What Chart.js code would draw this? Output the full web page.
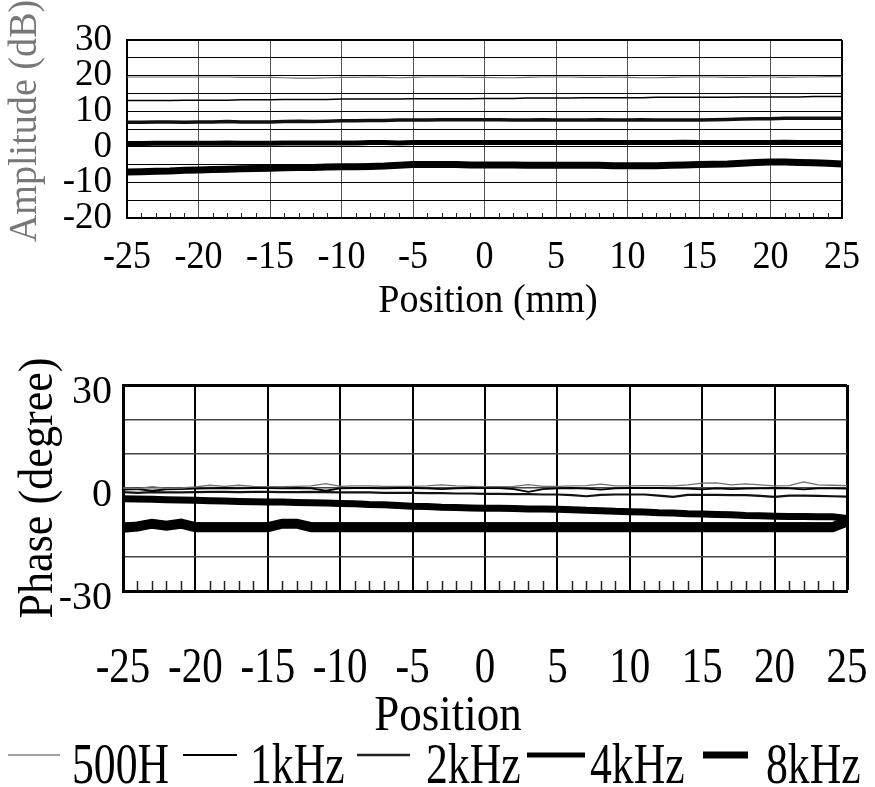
<!DOCTYPE html>
<html><head><meta charset="utf-8">
<script src="https://cdn.jsdelivr.net/npm/chart.js@4/dist/chart.umd.min.js"></script>
<style>
html,body{margin:0;padding:0;background:#fff;width:875px;height:787px;overflow:hidden;}
#top{position:absolute;left:0;top:0;width:875px;height:330px;}
#bot{position:absolute;left:0;top:330px;width:875px;height:457px;}
canvas{display:block;}
</style></head><body>
<div id="top"><canvas id="c1" width="875" height="330"></canvas></div>
<div id="bot"><canvas id="c2" width="875" height="457"></canvas></div>
<script>
// ---------- DATA ----------
const positions = [-25,-24,-23,-22,-21,-20,-19,-18,-17,-16,-15,-14,-13,-12,-11,-10,-9,-8,-7,-6,-5,-4,-3,-2,-1,0,1,2,3,4,5,6,7,8,9,10,11,12,13,14,15,16,17,18,19,20,21,22,23,24,25];
const seriesLabels = ['500H','1kHz','2kHz','4kHz','8kHz'];
const xTickLabels = ['-25','-20','-15','-10','-5','0','5','10','15','20','25'];
const ampTickLabels = ['30','20','10','0','-10','-20'];
const phaseTickLabels = ['30','0','-30'];

// Amplitude (dB)
const amp500 = [19.6,19.6,19.6,19.6,19.6,19.6,19.6,19.6,19.5,19.5, 19.5,19.4,19.3,19.3,19.4,19.5,19.5,19.6,19.5,19.4, 19.5,19.6,19.6,19.6,19.5,19.5,19.4,19.4,19.5,19.6, 19.6,19.6,19.5,19.5,19.6,19.5,19.4,19.4,19.5,19.6, 19.6,19.6,19.5,19.5,19.6,19.6,19.5,19.6,19.6,19.7, 19.7];
const amp1k  = [13.0,13.0,13.0,13.0,13.1,13.1,13.1,13.1,13.2,13.2, 13.2,13.3,13.3,13.3,13.3,13.4,13.4,13.4,13.4,13.4, 13.5,13.5,13.5,13.5,13.5,13.6,13.6,13.6,13.7,13.7, 13.7,13.7,13.8,13.8,13.8,13.8,13.8,13.9,13.9,13.9, 13.9,13.9,13.9,14.0,14.0,14.0,14.0,14.0,14.1,14.1, 14.1];
const amp2k  = [6.9,6.9,7.0,7.0,6.9,7.0,7.0,7.1,7.0,7.0, 7.0,7.1,7.2,7.1,7.2,7.3,7.3,7.4,7.4,7.5, 7.5,7.5,7.6,7.6,7.6,7.6,7.6,7.5,7.5,7.6, 7.5,7.5,7.5,7.6,7.5,7.5,7.6,7.5,7.5,7.5, 7.5,7.6,7.7,7.8,7.9,7.9,8.0,8.0,8.0,8.0, 8.0];
const amp4k  = [0.9,0.9,1.0,1.0,1.0,1.0,1.0,1.1,1.0,1.0, 1.0,1.1,1.1,1.1,1.1,1.1,1.1,1.2,1.2,1.1, 1.2,1.2,1.2,1.2,1.2,1.2,1.2,1.2,1.2,1.2, 1.2,1.2,1.2,1.2,1.2,1.2,1.2,1.2,1.2,1.3, 1.2,1.2,1.2,1.2,1.2,1.2,1.3,1.2,1.2,1.2, 1.2];
const amp8k  = [-7.1,-7.0,-6.9,-6.8,-6.6,-6.5,-6.4,-6.3,-6.2,-6.1, -6.0,-5.9,-5.8,-5.8,-5.7,-5.6,-5.6,-5.5,-5.4,-5.2, -5.0,-5.0,-5.0,-5.0,-5.1,-5.1,-5.1,-5.1,-5.2,-5.2, -5.2,-5.2,-5.2,-5.2,-5.3,-5.3,-5.3,-5.3,-5.2,-5.1, -5.0,-4.9,-4.8,-4.6,-4.4,-4.3,-4.3,-4.4,-4.5,-4.6, -4.8];

// Phase (degree)
const ph500 = [0.0,-0.2,0.4,-0.1,0.0,0.3,0.8,0.5,0.8,0.5, 0.4,0.4,0.5,0.6,1.3,0.5,0.6,0.6,0.5,0.5, 0.5,0.6,0.9,0.6,0.5,0.4,0.4,0.5,1.0,0.5, 0.5,0.6,0.7,1.1,0.6,0.6,0.7,0.7,0.6,0.9, 1.4,1.5,0.9,1.2,0.9,0.6,0.7,1.8,0.9,0.8, 0.7];
const ph1k  = [-0.5,-0.3,-0.8,-0.4,-0.3,-0.2,-0.1,0.0,-0.1,0.0, 0.0,-0.1,0.0,-0.1,-0.8,-0.1,0.0,0.0,-0.1,0.0, 0.0,-0.1,-0.3,-0.1,0.0,0.0,0.0,-0.3,-1.1,-0.3, -0.1,0.0,-0.2,-0.5,-0.1,0.0,0.0,0.0,-0.1,-0.2, -0.4,-0.1,-0.3,-0.2,-0.1,0.0,-0.1,-0.4,-0.1,-0.1, -0.2];
const ph2k  = [-1.2,-1.4,-1.2,-1.3,-1.3,-1.2,-1.1,-1.1,-1.2,-1.1, -1.1,-1.2,-1.2,-1.1,-1.2,-1.3,-1.3,-1.3,-1.4,-1.4, -1.4,-1.5,-1.5,-1.6,-1.6,-1.7,-1.7,-1.8,-1.8,-1.9, -1.9,-2.1,-2.4,-2.0,-1.9,-1.9,-1.9,-2.2,-2.6,-2.0, -2.0,-2.0,-2.1,-2.1,-2.3,-2.6,-2.2,-2.2,-2.3,-2.4, -2.5];
const ph4k  = [-3.1,-3.2,-3.3,-3.4,-3.5,-3.6,-3.7,-3.8,-3.9,-4.0, -4.1,-4.1,-4.2,-4.3,-4.4,-4.5,-4.6,-4.8,-4.9,-5.1, -5.3,-5.4,-5.6,-5.7,-5.8,-5.9,-5.9,-6.0,-6.1,-6.1, -6.2,-6.3,-6.5,-6.6,-6.8,-6.9,-7.0,-7.2,-7.3,-7.5, -7.6,-7.7,-7.8,-8.0,-8.1,-8.2,-8.3,-8.3,-8.4,-8.4, -8.9];
const ph8k  = [-11.6,-11.2,-10.4,-11.0,-10.4,-11.4,-11.4,-11.4,-11.4,-11.4, -11.4,-10.4,-10.4,-11.4,-11.4,-11.4,-11.4,-11.4,-11.4,-11.4, -11.4,-11.4,-11.4,-11.4,-11.4,-11.4,-11.4,-11.4,-11.4,-11.4, -11.4,-11.4,-11.4,-11.4,-11.4,-11.4,-11.4,-11.4,-11.4,-11.4, -11.4,-11.4,-11.4,-11.4,-11.4,-11.4,-11.4,-11.4,-11.4,-11.4, -9.8];

// ---------- STYLE ----------
const FONT = '"Liberation Serif", "Times New Roman", serif';
const seriesColors = ['#707070','#000000','#111111','#000000','#000000'];
const legendColors = ['#808080','#000000','#222222','#000000','#000000'];
const ampWidths = [1.2, 1.5, 3.5, 5, 7];
const phWidths = [1.3, 1.8, 2.2, 7, 10];
const legendWidths = [1.5, 2, 2.5, 5, 7];

function makeDatasets(arrays, widths) {
  return seriesLabels.map((lab, i) => ({
    label: lab,
    data: positions.map((p, j) => ({x: p, y: arrays[i][j]})),
    borderColor: seriesColors[i],
    backgroundColor: seriesColors[i],
    borderWidth: widths[i],
    pointRadius: 0,
    tension: 0,
    fill: false,
    clip: false,
    borderCapStyle: 'butt',
    borderJoinStyle: 'miter'
  }));
}

function condText(ctx, txt, x, y, size, sx, opt) {
  opt = opt || {};
  ctx.save();
  ctx.translate(x, y);
  if (opt.rot) ctx.rotate(-Math.PI / 2);
  ctx.scale(sx, 1);
  ctx.font = size + 'px ' + FONT;
  ctx.fillStyle = opt.color || '#000';
  ctx.textAlign = opt.align || 'center';
  ctx.textBaseline = opt.baseline || 'alphabetic';
  if (opt.filter) ctx.filter = opt.filter;
  ctx.fillText(txt, 0, 0);
  ctx.restore();
}

function minorTicks(chart, len, lw) {
  const ctx = chart.ctx, xs = chart.scales.x, ca = chart.chartArea;
  ctx.save();
  ctx.strokeStyle = '#222';
  ctx.lineWidth = lw;
  positions.forEach(p => {
    if (p % 5 !== 0) {
      const px = Math.round(xs.getPixelForValue(p)) + 0.5;
      ctx.beginPath();
      ctx.moveTo(px, ca.bottom);
      ctx.lineTo(px, ca.bottom - len);
      ctx.stroke();
    }
  });
  ctx.restore();
}

// ---------- TOP: AMPLITUDE ----------
const topDeco = {
  id: 'topDeco',
  afterDraw(chart) {
    const ctx = chart.ctx, xs = chart.scales.x;
    minorTicks(chart, 5, 1);
    xTickLabels.forEach(t => condText(ctx, t, xs.getPixelForValue(+t), 268, 41, 0.88));
    condText(ctx, 'Position (mm)', 488, 312, 41, 0.93);
    condText(ctx, 'Amplitude (dB)', 36, 121, 41, 0.93, {rot: true, color: '#777777', filter: 'blur(0.7px)'});
  }
};

new Chart(document.getElementById('c1'), {
  type: 'line',
  data: {datasets: makeDatasets([amp500, amp1k, amp2k, amp4k, amp8k], ampWidths)},
  options: {
    responsive: false, animation: false, devicePixelRatio: 1,
    layout: {padding: {left: 0, top: 40, right: 33, bottom: 0}},
    plugins: {legend: {display: false}, tooltip: {enabled: false}},
    scales: {
      x: {
        type: 'linear', min: -25, max: 25,
        ticks: {stepSize: 5, display: false},
        grid: {
          drawTicks: false,
          color: c => (c.tick && c.tick.value === 25) ? '#000' : '#555',
          lineWidth: c => (c.tick && c.tick.value === 25) ? 2 : 1
        },
        border: {display: true, color: '#000', width: 2},
        afterFit: s => { s.height = 112; }
      },
      y: {
        type: 'linear', min: -20, max: 30,
        ticks: {
          stepSize: 5, autoSkip: false, padding: 15, color: '#000',
          font: {family: FONT, size: 37},
          callback: v => ampTickLabels.includes(String(v)) ? String(v) : ''
        },
        grid: {
          drawTicks: false, color: '#000',
          lineWidth: c => (c.tick && c.tick.value === 30) ? 2 : 1
        },
        border: {display: true, color: '#000', width: 2},
        afterFit: s => { s.width = 127; }
      }
    }
  },
  plugins: [topDeco]
});

// ---------- BOTTOM: PHASE ----------
const legendLineX = [[8, 60], [183, 237], [357, 410], [527, 585], [703, 748]];
const legendTextX = [72, 250, 426, 590, 766];
const botDeco = {
  id: 'botDeco',
  afterDraw(chart) {
    const ctx = chart.ctx, xs = chart.scales.x;
    minorTicks(chart, 10, 1.5);
    xTickLabels.forEach(t => condText(ctx, t, xs.getPixelForValue(+t), 352, 50, 0.82));
    condText(ctx, 'Position', 448, 400, 50, 0.9);
    condText(ctx, 'Phase (degree)', 52, 158, 48, 0.92, {rot: true});
    // legend
    chart.data.datasets.forEach((ds, i) => {
      ctx.save();
      ctx.strokeStyle = legendColors[i];
      ctx.lineWidth = legendWidths[i];
      ctx.beginPath();
      ctx.moveTo(legendLineX[i][0], 425);
      ctx.lineTo(legendLineX[i][1], 425);
      ctx.stroke();
      ctx.restore();
      condText(ctx, ds.label, legendTextX[i], 453, 56, 0.78, {align: 'left'});
    });
  }
};

new Chart(document.getElementById('c2'), {
  type: 'line',
  data: {datasets: makeDatasets([ph500, ph1k, ph2k, ph4k, ph8k], phWidths)},
  options: {
    responsive: false, animation: false, devicePixelRatio: 1,
    layout: {padding: {left: 0, top: 55, right: 28, bottom: 0}},
    plugins: {legend: {display: false}, tooltip: {enabled: false}},
    scales: {
      x: {
        type: 'linear', min: -25, max: 25,
        ticks: {stepSize: 5, display: false},
        grid: {
          drawTicks: false, color: '#000',
          lineWidth: c => (c.tick && c.tick.value === 25) ? 3 : 2
        },
        border: {display: true, color: '#000', width: 3},
        afterFit: s => { s.height = 196; }
      },
      y: {
        type: 'linear', min: -30, max: 30,
        ticks: {
          stepSize: 10, autoSkip: false, padding: 11, labelOffset: 7, color: '#000',
          font: {family: FONT, size: 40},
          callback: v => phaseTickLabels.includes(String(v)) ? String(v) : ''
        },
        grid: {
          drawTicks: false,
          color: c => (c.tick && c.tick.value === 30) ? '#000' : '#444',
          lineWidth: c => (c.tick && c.tick.value === 30) ? 3 : 1.5
        },
        border: {display: true, color: '#000', width: 3},
        afterFit: s => { s.width = 123; }
      }
    }
  },
  plugins: [botDeco]
});
</script>
</body></html>
